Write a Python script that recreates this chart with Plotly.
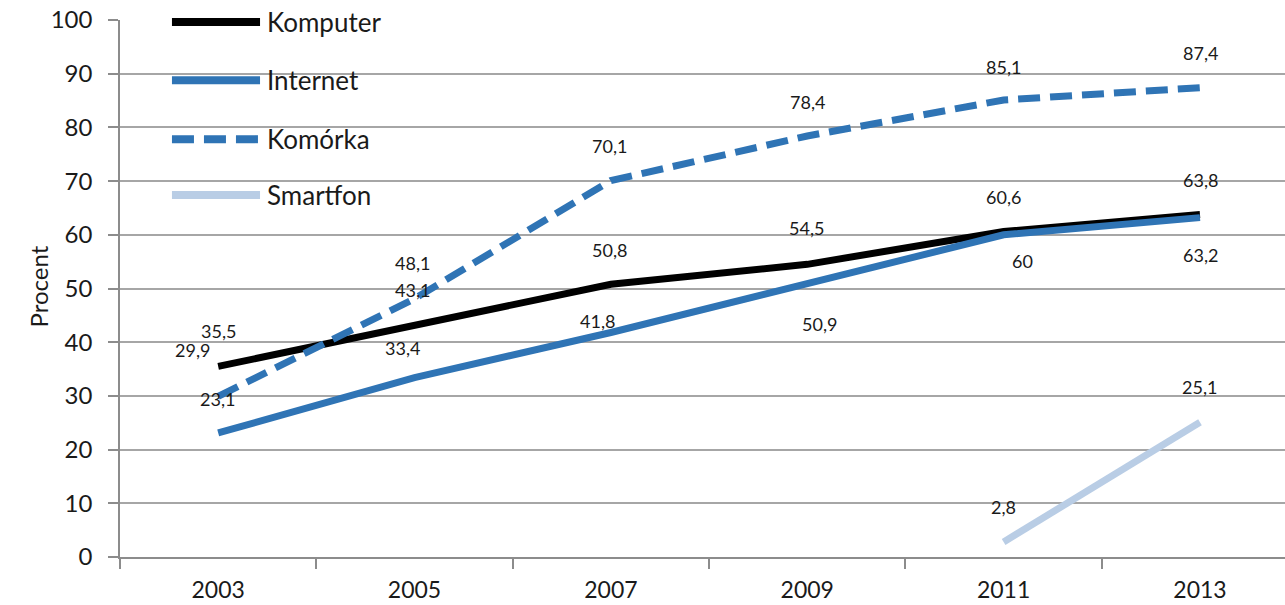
import plotly.graph_objects as go

years = ["2003", "2005", "2007", "2009", "2011", "2013"]
komputer = [35.5, 43.1, 50.8, 54.5, 60.6, 63.8]
internet = [23.1, 33.4, 41.8, 50.9, 60.0, 63.2]
komorka = [29.9, 48.1, 70.1, 78.4, 85.1, 87.4]
smartfon = [None, None, None, None, 2.8, 25.1]

names = ["Komputer", "Internet", "Komórka", "Smartfon"]
series = [komputer, internet, komorka, smartfon]
colors = ["#000000", "#2f74b5", "#2f74b5", "#b9cde5"]
dashes = ["solid", "solid", "22px,10px", "solid"]

# label offsets in pixels (xshift, yshift) per series/point
label_offsets = [
    [(0, 35), (-2, 36), (-1, 34), (-1, 36), (0, 35), (1, 34)],
    [(-1, 34), (-12, 30), (-13, 12), (12, -40), (19, -26), (1, -37)],
    [(-26, 46), (-2, 36), (-1, 35), (0, 34), (0, 33), (1, 35)],
    [None, None, None, None, (0, 35), (0, 35)],
]

FONT = "Lato"
TXT = "#1a1a1a"

fig = go.Figure()
for name, vals, col, dash in zip(names, series, colors, dashes):
    fig.add_trace(go.Scatter(
        x=years, y=vals, mode="lines", name=name,
        line=dict(color=col, width=7, dash=dash),
        showlegend=False, connectgaps=False,
    ))

annotations = []
for vals, offs in zip(series, label_offsets):
    for i, (v, off) in enumerate(zip(vals, offs)):
        if v is None:
            continue
        annotations.append(dict(
            x=i, y=v, xref="x", yref="y", showarrow=False,
            text=f"{v:g}".replace(".", ","),
            xshift=off[0], yshift=off[1],
            font=dict(family=FONT, size=18, color=TXT),
        ))

# y-axis title
annotations.append(dict(
    x=-0.0841, y=0.503, xref="paper", yref="paper", showarrow=False,
    text="Procent", textangle=-90,
    font=dict(family=FONT, size=24, color=TXT),
))

# manual legend
shapes = []
leg_y = [0.9963, 0.888, 0.778, 0.674]
for name, col, dash, ly in zip(names, colors, dashes, leg_y):
    shapes.append(dict(
        type="line", xref="paper", yref="paper",
        x0=0.0446, x1=0.1202, y0=ly, y1=ly,
        line=dict(color=col, width=8, dash=dash),
    ))
    annotations.append(dict(
        x=0.1245, y=ly, xref="paper", yref="paper", showarrow=False,
        xanchor="left", yanchor="middle", text=name,
        font=dict(family=FONT, size=26, color=TXT),
    ))

fig.update_layout(
    width=1285, height=605,
    margin=dict(l=120, r=0, t=20, b=48),
    plot_bgcolor="white", paper_bgcolor="white",
    annotations=annotations, shapes=shapes,
    xaxis=dict(
        type="category", range=[-0.5, 5.433], automargin=False,
        tickson="boundaries", ticks="outside", ticklen=10, tickwidth=1.5,
        tickcolor="#8c8c8c", showline=True, linecolor="#8c8c8c", linewidth=1.5,
        showgrid=False, tickfont=dict(family=FONT, size=23, color=TXT),
        ticklabelstandoff=12,
    ),
    yaxis=dict(
        range=[0, 100], dtick=10, ticks="outside", ticklen=10, tickwidth=1.5,
        automargin=False,
        tickcolor="#8c8c8c", showline=True, linecolor="#8c8c8c", linewidth=1.5,
        showgrid=True, gridcolor="#a6a6a6", gridwidth=1.5, zeroline=False,
        tickfont=dict(family=FONT, size=24, color=TXT),
        ticklabelstandoff=11,
    ),
)

fig.write_html("out.html", config={"displayModeBar": False},
               post_script="document.body.style.margin='0px';")
